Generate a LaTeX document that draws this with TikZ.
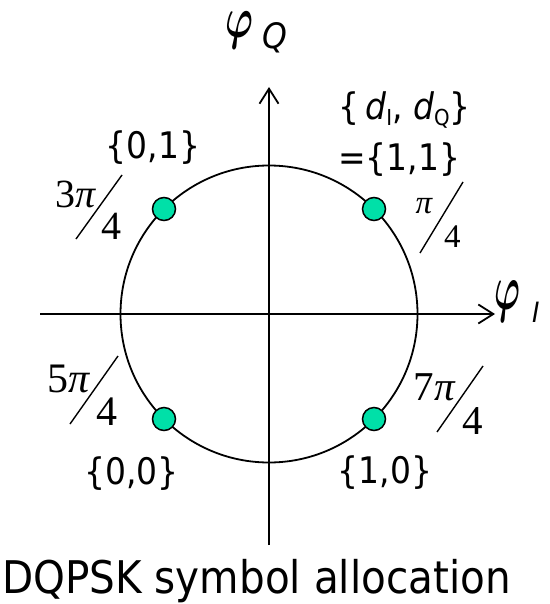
\documentclass[tikz,border=0pt]{standalone}
\usepackage{graphicx}
\usepackage{amsmath}
\usepackage{fontspec}
\setmainfont{DejaVu Sans}[FakeStretch=0.9]
\newfontfamily\serifnum{Liberation Serif}
\usetikzlibrary{arrows.meta,calc}
\definecolor{symbgreen}{RGB}{0,224,168}
\newcommand{\fsize}[1]{\fontsize{#1}{#1}\selectfont}
\newcommand{\phisym}[2]{\resizebox*{#1}{#2}{$\boldsymbol{\varphi}$}}

\begin{document}
\begin{tikzpicture}[x=1pt,y=-1pt,
    axis/.style={line width=1.8pt,-{Straight Barb[length=15pt,width=19pt]}},
    symb/.style={circle,draw,line width=1.5pt,fill=symbgreen,minimum size=23pt,inner sep=0pt},
    lbl/.style={inner sep=0pt,font=\fsize{36.6}},
    frac/.style={inner sep=0pt,font=\serifnum\fsize{40}},
    slash/.style={line width=1.4pt}]
  \useasboundingbox (0,0) rectangle (549,604);
  % ---- axes and circle ----
  \coordinate (o) at (269,314);
  \coordinate (xl) at (40,314);
  \coordinate (xr) at (495,314);
  \coordinate (yb) at (269,545);
  \coordinate (yt) at (269,87);
  \draw[axis] (xl) -- (xr);
  \draw[axis] (yb) -- (yt);
  \draw[line width=1.8pt] (o) circle[radius=148.5];
  % ---- symbols ----
  \foreach \a/\n in {45/s10,135/s00,225/s01,315/s11}
    \node[symb] (\n) at ($(o)+(\a:148.5)$) {};
  % ---- axis labels ----
  \node[inner sep=0pt] (phiQ) at (239,30) {\phisym{28pt}{37pt}};
  \node[inner sep=0pt,anchor=base west,font=\itshape\fsize{35}] (phiQsub) at (262,49) {Q};
  \node[inner sep=0pt] (phiI) at (507.5,301) {\phisym{26pt}{41pt}};
  \node[inner sep=0pt,anchor=base west,font=\itshape\fsize{28}] (phiIsub) at (532,322) {I};
  % ---- bit labels ----
  \node[lbl,anchor=base west] (l11a) at (338,120)
    {\{\,\textit{d}{\fsize{22}\raisebox{-6pt}{I}}, \textit{d}{\fsize{22}\raisebox{-6pt}{Q}}\}};
  \node[lbl,anchor=base west] (l11b) at (338,171) {=\{1,1\}};
  \node[lbl,anchor=base] (l01) at (153,158) {\{0,1\}};
  \node[lbl,anchor=base] (l00) at (131.5,484) {\{0,0\}};
  \node[lbl,anchor=base] (l10) at (385,483) {\{1,0\}};
  % ---- phase labels ----
  \node[frac,anchor=base east] (n3) at (97,207) {3\textit{π}};
  \node[frac,anchor=base west] (d3) at (101,239) {4};
  \draw[slash] (122,175) -- (76,239);
  \node[frac,anchor=base east,font=\serifnum\fsize{33}] (n1) at (433,213) {\textit{π}};
  \node[frac,anchor=base west,font=\serifnum\fsize{33}] (d1) at (444,247) {4};
  \draw[slash] (463,182) -- (420,253);
  \node[frac,anchor=base east,font=\serifnum\fsize{42}] (n5) at (91,392) {5\textit{π}};
  \node[frac,anchor=base west,font=\serifnum\fsize{42}] (d5) at (96,425) {4};
  \draw[slash] (118,356) -- (70,424);
  \node[frac,anchor=base east,font=\serifnum\fsize{41}] (n7) at (456,400) {7\textit{π}};
  \node[frac,anchor=base west,font=\serifnum\fsize{41}] (d7) at (462,434) {4};
  \draw[slash] (483,366) -- (437,432);
  % ---- caption ----
  \node[inner sep=0pt,anchor=base,font=\fsize{45}] (cap) at (256.5,593) {DQPSK symbol allocation};
\end{tikzpicture}
\end{document}
